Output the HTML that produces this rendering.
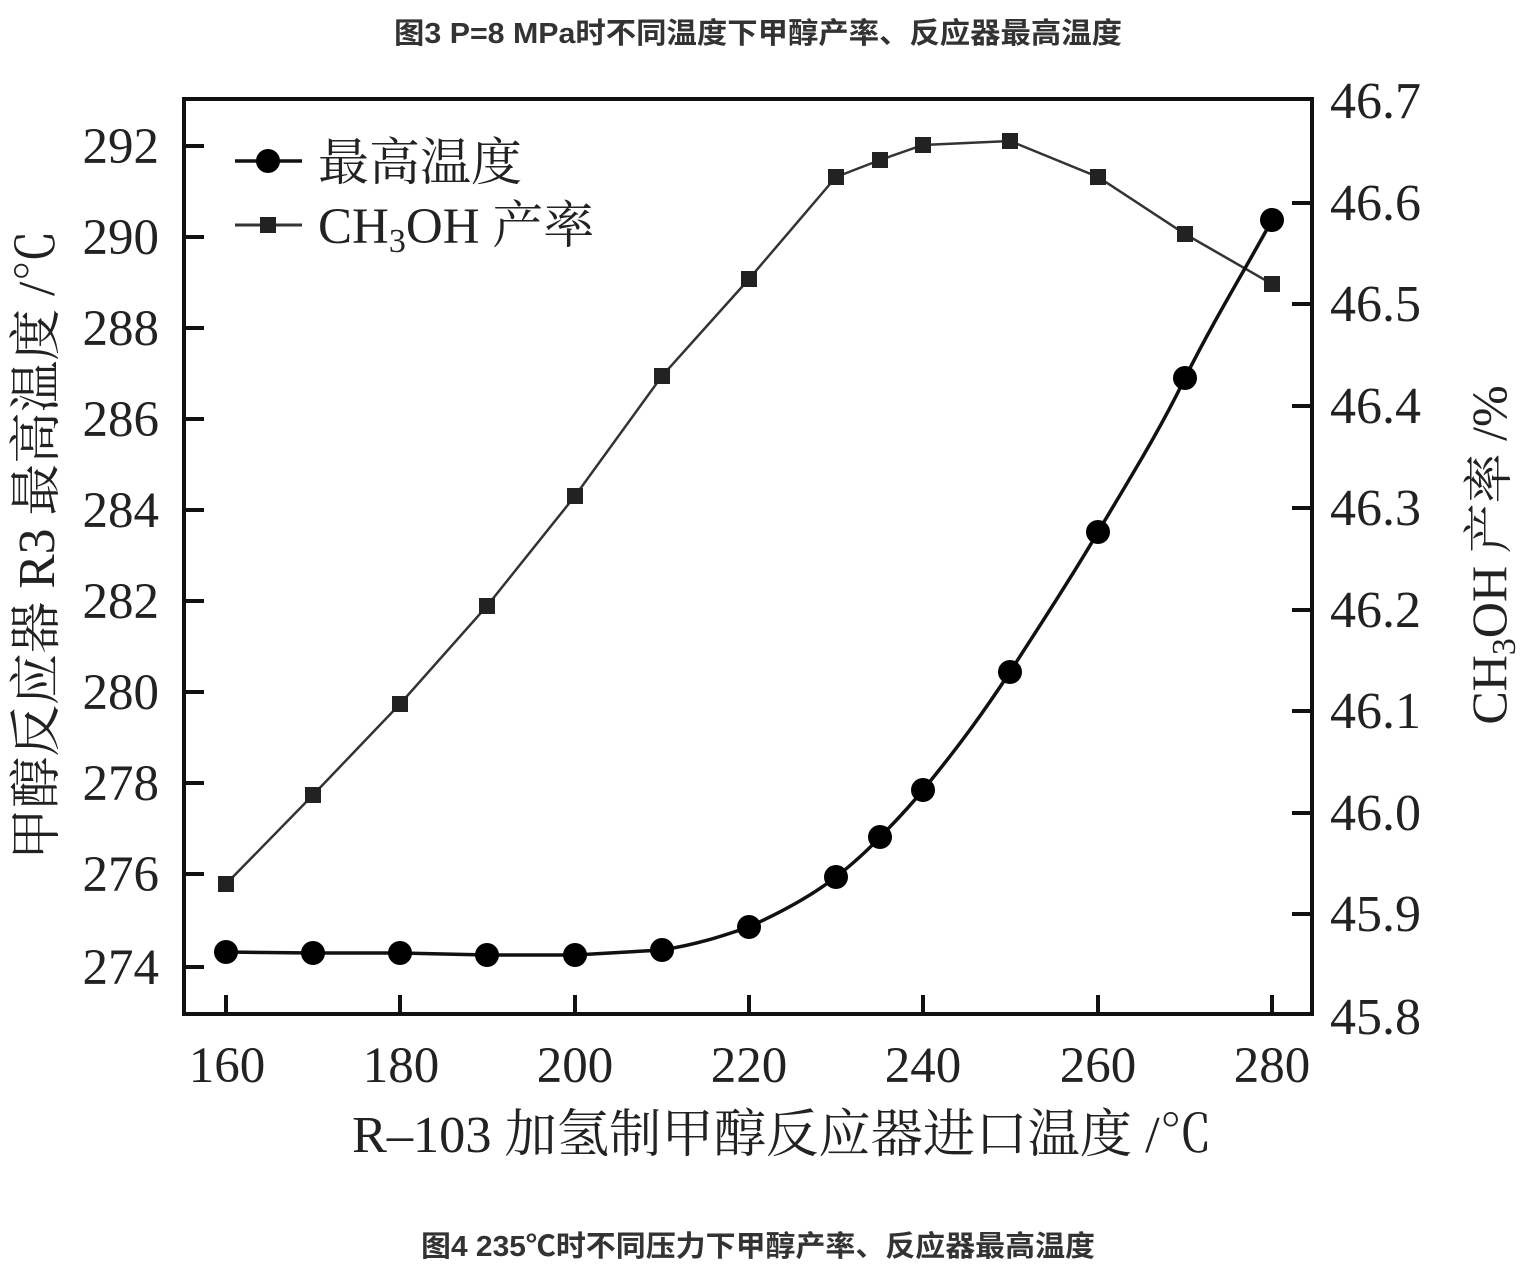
<!DOCTYPE html>
<html><head><meta charset="utf-8"><style>
body{margin:0;background:#fff;width:1528px;height:1280px;overflow:hidden}
svg{display:block}
.t{font-family:"Liberation Serif","Noto Serif CJK SC",serif;fill:#222}
.h{font-family:"Liberation Sans","Noto Sans CJK SC",sans-serif;font-weight:bold;fill:#333}
</style></head><body>
<svg width="1528" height="1280" viewBox="0 0 1528 1280">
<text class="h" x="758" y="43" font-size="29" text-anchor="middle" textLength="728" lengthAdjust="spacingAndGlyphs">图3 P=8 MPa时不同温度下甲醇产率、反应器最高温度</text>
<text class="h" x="758" y="1256" font-size="29" text-anchor="middle" textLength="674" lengthAdjust="spacingAndGlyphs">图4 235℃时不同压力下甲醇产率、反应器最高温度</text>
<g stroke="#111" stroke-width="4" fill="none">
<rect x="184" y="99" width="1128" height="915"/>
</g>
<g stroke="#111" stroke-width="4">
<line x1="184" y1="146" x2="204" y2="146"/><line x1="184" y1="237" x2="204" y2="237"/><line x1="184" y1="328" x2="204" y2="328"/><line x1="184" y1="419" x2="204" y2="419"/><line x1="184" y1="510" x2="204" y2="510"/><line x1="184" y1="601" x2="204" y2="601"/><line x1="184" y1="692" x2="204" y2="692"/><line x1="184" y1="783" x2="204" y2="783"/><line x1="184" y1="874" x2="204" y2="874"/><line x1="184" y1="967" x2="204" y2="967"/>
<line x1="1312" y1="203" x2="1292" y2="203"/><line x1="1312" y1="304" x2="1292" y2="304"/><line x1="1312" y1="406" x2="1292" y2="406"/><line x1="1312" y1="508" x2="1292" y2="508"/><line x1="1312" y1="610" x2="1292" y2="610"/><line x1="1312" y1="711" x2="1292" y2="711"/><line x1="1312" y1="813" x2="1292" y2="813"/><line x1="1312" y1="914" x2="1292" y2="914"/>
<line x1="226" y1="1014" x2="226" y2="995"/><line x1="400" y1="1014" x2="400" y2="995"/><line x1="575" y1="1014" x2="575" y2="995"/><line x1="749" y1="1014" x2="749" y2="995"/><line x1="923" y1="1014" x2="923" y2="995"/><line x1="1098" y1="1014" x2="1098" y2="995"/><line x1="1272" y1="1014" x2="1272" y2="995"/>
</g>
<g class="t" font-size="51" text-anchor="end">
<text x="159" y="163">292</text><text x="159" y="254">290</text><text x="159" y="345">288</text><text x="159" y="436">286</text><text x="159" y="527">284</text><text x="159" y="618">282</text><text x="159" y="709">280</text><text x="159" y="800">278</text><text x="159" y="891">276</text><text x="159" y="984">274</text>
</g>
<g class="t" font-size="52">
<text x="1330" y="118">46.7</text><text x="1330" y="220">46.6</text><text x="1330" y="321">46.5</text><text x="1330" y="423">46.4</text><text x="1330" y="525">46.3</text><text x="1330" y="627">46.2</text><text x="1330" y="728">46.1</text><text x="1330" y="830">46.0</text><text x="1330" y="931">45.9</text><text x="1330" y="1034">45.8</text>
</g>
<g class="t" font-size="51" text-anchor="middle">
<text x="227" y="1082">160</text><text x="401" y="1082">180</text><text x="575" y="1082">200</text><text x="749" y="1082">220</text><text x="923" y="1082">240</text><text x="1098" y="1082">260</text><text x="1272" y="1082">280</text>
</g>
<text class="t" x="782" y="1152" font-size="52" text-anchor="middle" textLength="860" lengthAdjust="spacingAndGlyphs">R–103 加氢制甲醇反应器进口温度 /℃</text>
<text class="t" font-size="52" text-anchor="middle" textLength="630" lengthAdjust="spacingAndGlyphs" transform="translate(54,545) rotate(-90)">甲醇反应器 R3 最高温度 /℃</text>
<text class="t" font-size="50" text-anchor="middle" transform="translate(1506,555) rotate(-90)">CH<tspan font-size="34" dy="9">3</tspan><tspan dy="-9">OH 产率 /%</tspan></text>
<polyline fill="none" stroke="#333" stroke-width="2.5" points="226,884 313,795 400,704 487,606 575,496 662,376 749,279 836,177 880,160 923,145 1010,141 1098,177 1185,234 1272,284"/>
<g fill="#222">
<rect x="218" y="876" width="16" height="16"/><rect x="305" y="787" width="16" height="16"/><rect x="392" y="696" width="16" height="16"/><rect x="479" y="598" width="16" height="16"/><rect x="567" y="488" width="16" height="16"/><rect x="654" y="368" width="16" height="16"/><rect x="741" y="271" width="16" height="16"/><rect x="828" y="169" width="16" height="16"/><rect x="872" y="152" width="16" height="16"/><rect x="915" y="137" width="16" height="16"/><rect x="1002" y="133" width="16" height="16"/><rect x="1090" y="169" width="16" height="16"/><rect x="1177" y="226" width="16" height="16"/><rect x="1264" y="276" width="16" height="16"/>
</g>
<path fill="none" stroke="#111" stroke-width="3.5" d="M226,952 L313,953 L400,953 L487,955 L575,955 L662,950 C700,944 725,935 749,927 C790,908 815,893 836,877 C855,862 868,850 880,837 C895,822 910,806 923,790 C960,745 985,710 1010,672 C1040,625 1070,580 1098,532 C1130,478 1160,430 1185,378 C1215,318 1245,270 1272,220"/>
<g fill="#000">
<circle cx="226" cy="952" r="12"/><circle cx="313" cy="953" r="12"/><circle cx="400" cy="953" r="12"/><circle cx="487" cy="955" r="12"/><circle cx="575" cy="955" r="12"/><circle cx="662" cy="950" r="12"/><circle cx="749" cy="927" r="12"/><circle cx="836" cy="877" r="12"/><circle cx="880" cy="837" r="12"/><circle cx="923" cy="790" r="12"/><circle cx="1010" cy="672" r="12"/><circle cx="1098" cy="532" r="12"/><circle cx="1185" cy="378" r="12"/><circle cx="1272" cy="220" r="12"/>
</g>
<line x1="235" y1="161" x2="302" y2="161" stroke="#111" stroke-width="3.5"/>
<circle cx="268" cy="161" r="12" fill="#000"/>
<text class="t" x="318" y="180" font-size="51" textLength="204" lengthAdjust="spacingAndGlyphs">最高温度</text>
<line x1="235" y1="225" x2="302" y2="225" stroke="#333" stroke-width="3"/>
<rect x="260" y="217" width="16" height="16" fill="#222"/>
<text class="t" x="318" y="243" font-size="51">CH<tspan font-size="34" dy="9">3</tspan><tspan dy="-9">OH 产率</tspan></text>
</svg>
</body></html>
